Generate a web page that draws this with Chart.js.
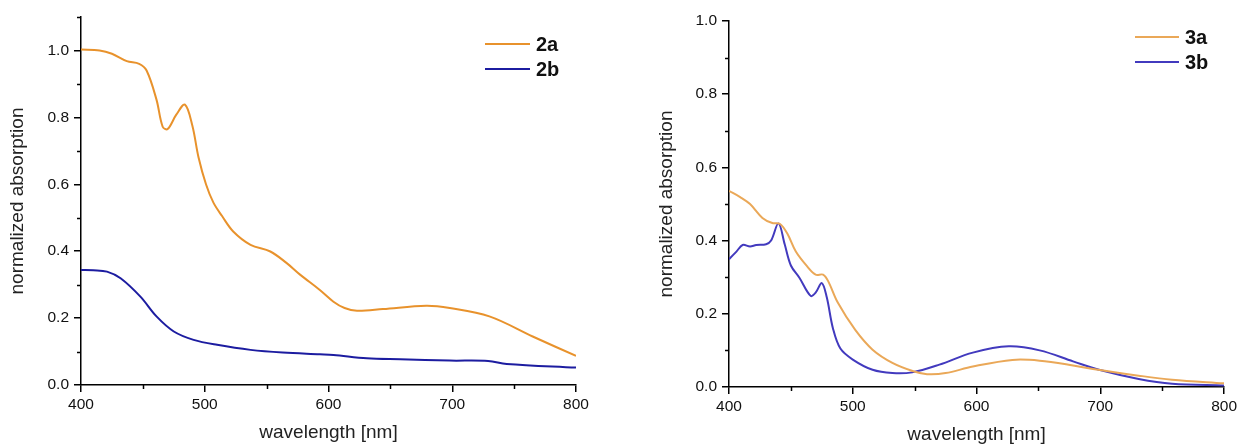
<!DOCTYPE html>
<html>
<head>
<meta charset="utf-8">
<script src="https://cdn.jsdelivr.net/npm/chart.js@4.4.0/dist/chart.umd.min.js"></script>
<style>
  body { margin: 0; background: #fff; }
  .caja { position: absolute; top: 0; }
</style>
</head>
<body>
<div class="caja" style="left:0px;width:620px;height:446px"><canvas id="grafica_2" width="620" height="446"></canvas></div>
<div class="caja" style="left:640px;width:600px;height:446px"><canvas id="grafica_3" width="600" height="446"></canvas></div>
<script>
  // Espectros 2a / 2b (longitud de onda en nm, absorcion normalizada)
  const lambda_2a = [400, 415, 425, 437, 447, 453, 461, 466, 470, 477, 484, 490, 495, 501, 507, 514, 523, 537, 553, 566, 577, 593, 604, 613, 623, 644, 679, 698, 730, 765, 800];
  const abs_2a = [1.003, 1.000, 0.990, 0.968, 0.960, 0.940, 0.853, 0.772, 0.765, 0.808, 0.838, 0.775, 0.680, 0.600, 0.545, 0.505, 0.459, 0.419, 0.399, 0.365, 0.330, 0.284, 0.249, 0.230, 0.222, 0.227, 0.237, 0.230, 0.205, 0.145, 0.087];
  const lambda_2b = [400, 410, 421, 432, 448, 461, 475, 491, 510, 537, 563, 593, 604, 631, 658, 698, 729, 744, 800];
  const abs_2b = [0.344, 0.343, 0.339, 0.319, 0.264, 0.205, 0.160, 0.135, 0.120, 0.105, 0.097, 0.092, 0.090, 0.080, 0.077, 0.073, 0.072, 0.063, 0.052];

  // Espectros 3a / 3b
  const lambda_3a = [400, 409, 417, 427, 435, 441, 447, 454, 463, 470, 476, 480, 488, 502, 516, 532, 549, 560, 575, 597, 629, 651, 678, 694, 731, 758, 800];
  const abs_3a = [0.536, 0.519, 0.500, 0.462, 0.448, 0.446, 0.420, 0.370, 0.330, 0.307, 0.307, 0.290, 0.230, 0.156, 0.102, 0.066, 0.043, 0.035, 0.038, 0.056, 0.074, 0.072, 0.059, 0.049, 0.031, 0.020, 0.010];
  const lambda_3b = [400, 406, 411, 417, 422, 430, 434, 440, 445, 450, 457, 466, 470, 475, 479, 484, 490, 500, 516, 532, 548, 570, 597, 626, 651, 678, 699, 731, 758, 800];
  const abs_3b = [0.349, 0.370, 0.388, 0.384, 0.388, 0.390, 0.400, 0.447, 0.390, 0.332, 0.298, 0.249, 0.258, 0.284, 0.245, 0.160, 0.105, 0.075, 0.047, 0.038, 0.040, 0.061, 0.094, 0.111, 0.100, 0.070, 0.047, 0.022, 0.009, 0.004];

  const etiquetas_2 = ["2a", "2b"];
  const etiquetas_3 = ["3a", "3b"];
  const ticks_x = [400, 500, 600, 700, 800];
  const ticks_y = [0.0, 0.2, 0.4, 0.6, 0.8, 1.0];

  const color_2 = ['rgb(232, 146, 44)', 'rgb(28, 28, 160)'];
  const color_3 = ['rgb(234, 168, 88)', 'rgb(66, 58, 190)'];

  const fuente = "'Liberation Sans', Arial, sans-serif";

  let puntos = function(xs, ys) {
    return xs.map((x, i) => ({x: x, y: ys[i]}));
  };

  //ticks menores (a mitad de los mayores) y leyenda con linea
  const extras = {
    id: 'extras',
    afterDraw(chart, args, opts) {
      const ctx = chart.ctx;
      const sx = chart.scales.x, sy = chart.scales.y;
      ctx.save();
      ctx.strokeStyle = '#000';
      ctx.lineWidth = 1.5;
      for (let i = 1; sx.min + i * 50 <= sx.max; i += 2) {
        const px = Math.round(sx.getPixelForValue(sx.min + i * 50)) + 0.5;
        ctx.beginPath();
        ctx.moveTo(px, sx.top);
        ctx.lineTo(px, sx.top + 4);
        ctx.stroke();
      }
      for (let i = 1; i * 0.1 <= sy.max + 1e-9; i += 2) {
        const py = Math.round(sy.getPixelForValue(i * 0.1)) + 0.5;
        ctx.beginPath();
        ctx.moveTo(sy.right, py);
        ctx.lineTo(sy.right - 4, py);
        ctx.stroke();
      }
      // leyenda
      ctx.font = "bold 20px " + fuente;
      ctx.textBaseline = 'middle';
      ctx.textAlign = 'left';
      chart.data.datasets.forEach((ds, i) => {
        const y = opts.y + i * 25;
        ctx.strokeStyle = ds.borderColor;
        ctx.lineWidth = 2;
        ctx.beginPath();
        ctx.moveTo(opts.x, y);
        ctx.lineTo(opts.x + opts.largo, y);
        ctx.stroke();
        ctx.fillStyle = '#111';
        ctx.fillText(ds.label, opts.x + opts.largo + 6, y + 1);
      });
      ctx.restore();
    }
  };

  let crearGrafica = function(canvas, etiquetas, colores, series, cfg) {
    return new Chart(canvas, {
      type: 'line',
      data: {
        datasets: series.map((s, i) => ({
          label: etiquetas[i],
          data: s,
          borderColor: colores[i],
          borderWidth: 2,
          pointRadius: 0,
          fill: false,
          tension: 0.35
        }))
      },
      options: {
        responsive: false,
        animation: false,
        devicePixelRatio: 1,
        layout: { padding: { top: cfg.arriba, right: cfg.derecha, bottom: 0, left: 0 } },
        plugins: {
          legend: { display: false },
          tooltip: { enabled: false },
          extras: cfg.leyenda
        },
        scales: {
          x: {
            type: 'linear',
            min: 400,
            max: 800,
            afterFit: (scale) => { scale.height = cfg.altoX; },
            afterBuildTicks: (scale) => { scale.ticks = ticks_x.map(v => ({value: v})); },
            border: { display: true, color: '#000', width: 1.5 },
            grid: { drawOnChartArea: false, drawTicks: true, tickLength: 7, tickColor: '#000', lineWidth: 1.5 },
            ticks: { color: '#111', padding: 3, font: { family: fuente, size: 15.5 }, maxRotation: 0 },
            title: {
              display: true,
              text: 'wavelength [nm]',
              color: '#222',
              font: { family: fuente, size: 19, lineHeight: 1.2 },
              padding: { top: 0, bottom: cfg.padTituloX }
            }
          },
          y: {
            type: 'linear',
            min: 0,
            max: cfg.maxY,
            afterFit: (scale) => { scale.width = cfg.anchoY; },
            afterBuildTicks: (scale) => { scale.ticks = ticks_y.map(v => ({value: v})); },
            border: { display: true, color: '#000', width: 1.5 },
            grid: { drawOnChartArea: false, drawTicks: true, tickLength: 7, tickColor: '#000', lineWidth: 1.5 },
            ticks: { color: '#111', padding: 5, font: { family: fuente, size: 15.5 }, callback: (v) => Number(v).toFixed(1) },
            title: {
              display: true,
              text: 'normalized absorption',
              color: '#222',
              font: { family: fuente, size: 19, lineHeight: 1.2 },
              padding: { top: cfg.padTituloY, bottom: 0 }
            }
          }
        }
      },
      plugins: [extras]
    });
  };

  crearGrafica(document.querySelector("#grafica_2"), etiquetas_2, color_2,
    [puntos(lambda_2a, abs_2a), puntos(lambda_2b, abs_2b)],
    { arriba: 17, derecha: 44, altoX: 61, anchoY: 81, maxY: 1.1, padTituloX: 1.5, padTituloY: 6.5,
      leyenda: { x: 485, y: 44, largo: 45 } });

  crearGrafica(document.querySelector("#grafica_3"), etiquetas_3, color_3,
    [puntos(lambda_3a, abs_3a), puntos(lambda_3b, abs_3b)],
    { arriba: 21, derecha: 15, altoX: 59, anchoY: 89, maxY: 1.0, padTituloX: 0, padTituloY: 15.5,
      leyenda: { x: 495, y: 37, largo: 44 } });
</script>
</body>
</html>
